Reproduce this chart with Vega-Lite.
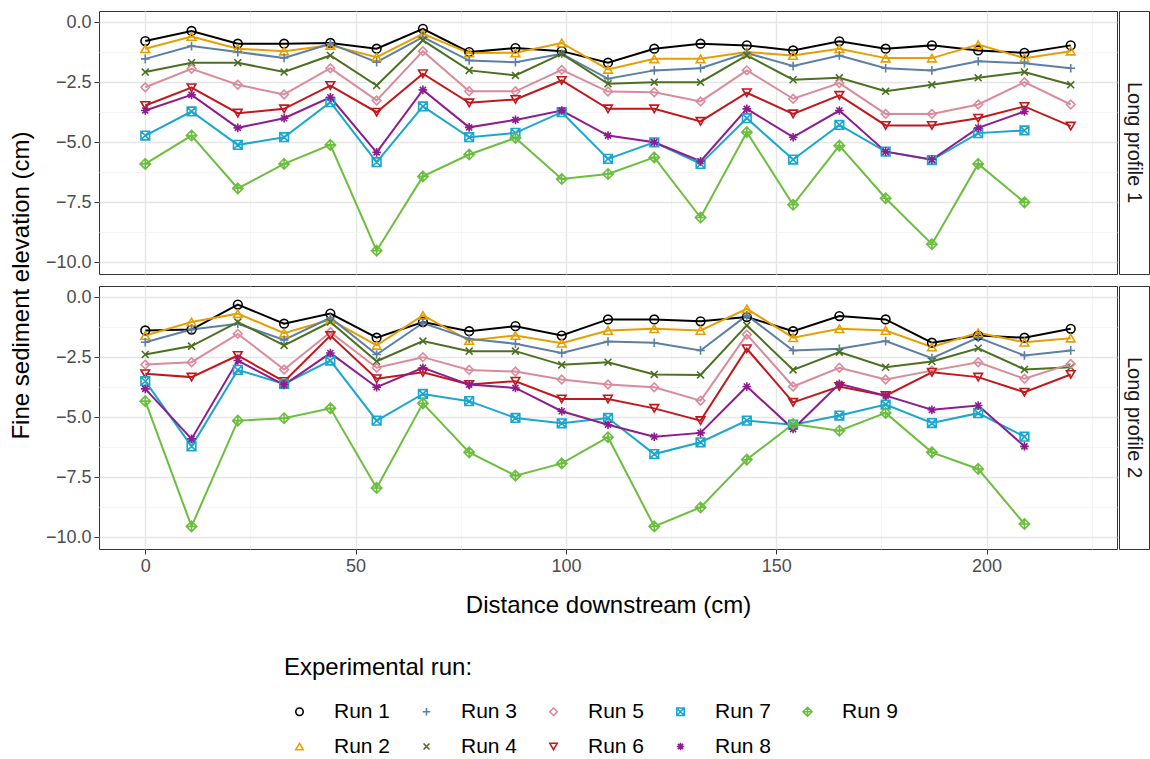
{
"$schema": "https://vega.github.io/schema/vega-lite/v6.json",
"padding": {"left": 8, "top": 10, "right": 0, "bottom": 0},
"background": "white",
"bounds": "flush",
"columns": 2,
"spacing": {"row": 12, "column": 2},
"config": {
  "font": "Liberation Sans",
  "view": {"stroke": "#333333", "strokeWidth": 1},
  "axis": {"labelFont": "Liberation Sans", "labelFontSize": 18, "labelColor": "#4d4d4d", "titleFont": "Liberation Sans", "titleFontSize": 24, "titleFontWeight": "normal", "titleColor": "#000000", "tickColor": "#333333", "tickSize": 5, "domain": false, "labelPadding": 3},
  "legend": {"titleFont": "Liberation Sans", "labelFont": "Liberation Sans", "titleLimit": 500, "labelLimit": 200}
},
"datasets": {
"strips": [{"profile": "Long profile 1"}, {"profile": "Long profile 2"}],
"runs": [
{"profile":"Long profile 1","run":"Run 1","distance":0,"elevation":-0.79},
{"profile":"Long profile 1","run":"Run 1","distance":11,"elevation":-0.37},
{"profile":"Long profile 1","run":"Run 1","distance":22,"elevation":-0.9},
{"profile":"Long profile 1","run":"Run 1","distance":33,"elevation":-0.9},
{"profile":"Long profile 1","run":"Run 1","distance":44,"elevation":-0.87},
{"profile":"Long profile 1","run":"Run 1","distance":55,"elevation":-1.11},
{"profile":"Long profile 1","run":"Run 1","distance":66,"elevation":-0.28},
{"profile":"Long profile 1","run":"Run 1","distance":77,"elevation":-1.25},
{"profile":"Long profile 1","run":"Run 1","distance":88,"elevation":-1.08},
{"profile":"Long profile 1","run":"Run 1","distance":99,"elevation":-1.21},
{"profile":"Long profile 1","run":"Run 1","distance":110,"elevation":-1.69},
{"profile":"Long profile 1","run":"Run 1","distance":121,"elevation":-1.11},
{"profile":"Long profile 1","run":"Run 1","distance":132,"elevation":-0.9},
{"profile":"Long profile 1","run":"Run 1","distance":143,"elevation":-0.97},
{"profile":"Long profile 1","run":"Run 1","distance":154,"elevation":-1.18},
{"profile":"Long profile 1","run":"Run 1","distance":165,"elevation":-0.8},
{"profile":"Long profile 1","run":"Run 1","distance":176,"elevation":-1.11},
{"profile":"Long profile 1","run":"Run 1","distance":187,"elevation":-0.97},
{"profile":"Long profile 1","run":"Run 1","distance":198,"elevation":-1.18},
{"profile":"Long profile 1","run":"Run 1","distance":209,"elevation":-1.28},
{"profile":"Long profile 1","run":"Run 1","distance":220,"elevation":-0.97},
{"profile":"Long profile 1","run":"Run 2","distance":0,"elevation":-1.11},
{"profile":"Long profile 1","run":"Run 2","distance":11,"elevation":-0.6},
{"profile":"Long profile 1","run":"Run 2","distance":22,"elevation":-1.11},
{"profile":"Long profile 1","run":"Run 2","distance":33,"elevation":-1.21},
{"profile":"Long profile 1","run":"Run 2","distance":44,"elevation":-0.97},
{"profile":"Long profile 1","run":"Run 2","distance":55,"elevation":-1.46},
{"profile":"Long profile 1","run":"Run 2","distance":66,"elevation":-0.49},
{"profile":"Long profile 1","run":"Run 2","distance":77,"elevation":-1.29},
{"profile":"Long profile 1","run":"Run 2","distance":88,"elevation":-1.28},
{"profile":"Long profile 1","run":"Run 2","distance":99,"elevation":-0.87},
{"profile":"Long profile 1","run":"Run 2","distance":110,"elevation":-1.97},
{"profile":"Long profile 1","run":"Run 2","distance":121,"elevation":-1.53},
{"profile":"Long profile 1","run":"Run 2","distance":132,"elevation":-1.53},
{"profile":"Long profile 1","run":"Run 2","distance":143,"elevation":-1.25},
{"profile":"Long profile 1","run":"Run 2","distance":154,"elevation":-1.39},
{"profile":"Long profile 1","run":"Run 2","distance":165,"elevation":-1.11},
{"profile":"Long profile 1","run":"Run 2","distance":176,"elevation":-1.5},
{"profile":"Long profile 1","run":"Run 2","distance":187,"elevation":-1.5},
{"profile":"Long profile 1","run":"Run 2","distance":198,"elevation":-0.94},
{"profile":"Long profile 1","run":"Run 2","distance":209,"elevation":-1.5},
{"profile":"Long profile 1","run":"Run 2","distance":220,"elevation":-1.21},
{"profile":"Long profile 1","run":"Run 3","distance":0,"elevation":-1.53},
{"profile":"Long profile 1","run":"Run 3","distance":11,"elevation":-1.0},
{"profile":"Long profile 1","run":"Run 3","distance":22,"elevation":-1.25},
{"profile":"Long profile 1","run":"Run 3","distance":33,"elevation":-1.49},
{"profile":"Long profile 1","run":"Run 3","distance":44,"elevation":-0.9},
{"profile":"Long profile 1","run":"Run 3","distance":55,"elevation":-1.67},
{"profile":"Long profile 1","run":"Run 3","distance":66,"elevation":-0.63},
{"profile":"Long profile 1","run":"Run 3","distance":77,"elevation":-1.6},
{"profile":"Long profile 1","run":"Run 3","distance":88,"elevation":-1.67},
{"profile":"Long profile 1","run":"Run 3","distance":99,"elevation":-1.32},
{"profile":"Long profile 1","run":"Run 3","distance":110,"elevation":-2.36},
{"profile":"Long profile 1","run":"Run 3","distance":121,"elevation":-2.01},
{"profile":"Long profile 1","run":"Run 3","distance":132,"elevation":-1.92},
{"profile":"Long profile 1","run":"Run 3","distance":143,"elevation":-1.29},
{"profile":"Long profile 1","run":"Run 3","distance":154,"elevation":-1.83},
{"profile":"Long profile 1","run":"Run 3","distance":165,"elevation":-1.39},
{"profile":"Long profile 1","run":"Run 3","distance":176,"elevation":-1.92},
{"profile":"Long profile 1","run":"Run 3","distance":187,"elevation":-2.01},
{"profile":"Long profile 1","run":"Run 3","distance":198,"elevation":-1.63},
{"profile":"Long profile 1","run":"Run 3","distance":209,"elevation":-1.71},
{"profile":"Long profile 1","run":"Run 3","distance":220,"elevation":-1.92},
{"profile":"Long profile 1","run":"Run 4","distance":0,"elevation":-2.08},
{"profile":"Long profile 1","run":"Run 4","distance":11,"elevation":-1.69},
{"profile":"Long profile 1","run":"Run 4","distance":22,"elevation":-1.69},
{"profile":"Long profile 1","run":"Run 4","distance":33,"elevation":-2.08},
{"profile":"Long profile 1","run":"Run 4","distance":44,"elevation":-1.39},
{"profile":"Long profile 1","run":"Run 4","distance":55,"elevation":-2.64},
{"profile":"Long profile 1","run":"Run 4","distance":66,"elevation":-0.76},
{"profile":"Long profile 1","run":"Run 4","distance":77,"elevation":-2.01},
{"profile":"Long profile 1","run":"Run 4","distance":88,"elevation":-2.22},
{"profile":"Long profile 1","run":"Run 4","distance":99,"elevation":-1.32},
{"profile":"Long profile 1","run":"Run 4","distance":110,"elevation":-2.57},
{"profile":"Long profile 1","run":"Run 4","distance":121,"elevation":-2.5},
{"profile":"Long profile 1","run":"Run 4","distance":132,"elevation":-2.5},
{"profile":"Long profile 1","run":"Run 4","distance":143,"elevation":-1.39},
{"profile":"Long profile 1","run":"Run 4","distance":154,"elevation":-2.4},
{"profile":"Long profile 1","run":"Run 4","distance":165,"elevation":-2.32},
{"profile":"Long profile 1","run":"Run 4","distance":176,"elevation":-2.88},
{"profile":"Long profile 1","run":"Run 4","distance":187,"elevation":-2.61},
{"profile":"Long profile 1","run":"Run 4","distance":198,"elevation":-2.32},
{"profile":"Long profile 1","run":"Run 4","distance":209,"elevation":-2.08},
{"profile":"Long profile 1","run":"Run 4","distance":220,"elevation":-2.61},
{"profile":"Long profile 1","run":"Run 5","distance":0,"elevation":-2.71},
{"profile":"Long profile 1","run":"Run 5","distance":11,"elevation":-1.94},
{"profile":"Long profile 1","run":"Run 5","distance":22,"elevation":-2.61},
{"profile":"Long profile 1","run":"Run 5","distance":33,"elevation":-3.01},
{"profile":"Long profile 1","run":"Run 5","distance":44,"elevation":-1.92},
{"profile":"Long profile 1","run":"Run 5","distance":55,"elevation":-3.26},
{"profile":"Long profile 1","run":"Run 5","distance":66,"elevation":-1.21},
{"profile":"Long profile 1","run":"Run 5","distance":77,"elevation":-2.88},
{"profile":"Long profile 1","run":"Run 5","distance":88,"elevation":-2.88},
{"profile":"Long profile 1","run":"Run 5","distance":99,"elevation":-1.99},
{"profile":"Long profile 1","run":"Run 5","distance":110,"elevation":-2.89},
{"profile":"Long profile 1","run":"Run 5","distance":121,"elevation":-2.92},
{"profile":"Long profile 1","run":"Run 5","distance":132,"elevation":-3.3},
{"profile":"Long profile 1","run":"Run 5","distance":143,"elevation":-2.01},
{"profile":"Long profile 1","run":"Run 5","distance":154,"elevation":-3.19},
{"profile":"Long profile 1","run":"Run 5","distance":165,"elevation":-2.54},
{"profile":"Long profile 1","run":"Run 5","distance":176,"elevation":-3.82},
{"profile":"Long profile 1","run":"Run 5","distance":187,"elevation":-3.82},
{"profile":"Long profile 1","run":"Run 5","distance":198,"elevation":-3.43},
{"profile":"Long profile 1","run":"Run 5","distance":209,"elevation":-2.5},
{"profile":"Long profile 1","run":"Run 5","distance":220,"elevation":-3.43},
{"profile":"Long profile 1","run":"Run 6","distance":0,"elevation":-3.47},
{"profile":"Long profile 1","run":"Run 6","distance":11,"elevation":-2.73},
{"profile":"Long profile 1","run":"Run 6","distance":22,"elevation":-3.79},
{"profile":"Long profile 1","run":"Run 6","distance":33,"elevation":-3.61},
{"profile":"Long profile 1","run":"Run 6","distance":44,"elevation":-2.64},
{"profile":"Long profile 1","run":"Run 6","distance":55,"elevation":-3.75},
{"profile":"Long profile 1","run":"Run 6","distance":66,"elevation":-2.15},
{"profile":"Long profile 1","run":"Run 6","distance":77,"elevation":-3.36},
{"profile":"Long profile 1","run":"Run 6","distance":88,"elevation":-3.22},
{"profile":"Long profile 1","run":"Run 6","distance":99,"elevation":-2.43},
{"profile":"Long profile 1","run":"Run 6","distance":110,"elevation":-3.61},
{"profile":"Long profile 1","run":"Run 6","distance":121,"elevation":-3.61},
{"profile":"Long profile 1","run":"Run 6","distance":132,"elevation":-4.13},
{"profile":"Long profile 1","run":"Run 6","distance":143,"elevation":-2.94},
{"profile":"Long profile 1","run":"Run 6","distance":154,"elevation":-3.82},
{"profile":"Long profile 1","run":"Run 6","distance":165,"elevation":-3.05},
{"profile":"Long profile 1","run":"Run 6","distance":176,"elevation":-4.3},
{"profile":"Long profile 1","run":"Run 6","distance":187,"elevation":-4.3},
{"profile":"Long profile 1","run":"Run 6","distance":198,"elevation":-4.0},
{"profile":"Long profile 1","run":"Run 6","distance":209,"elevation":-3.51},
{"profile":"Long profile 1","run":"Run 6","distance":220,"elevation":-4.33},
{"profile":"Long profile 1","run":"Run 7","distance":0,"elevation":-4.72},
{"profile":"Long profile 1","run":"Run 7","distance":11,"elevation":-3.72},
{"profile":"Long profile 1","run":"Run 7","distance":22,"elevation":-5.11},
{"profile":"Long profile 1","run":"Run 7","distance":33,"elevation":-4.79},
{"profile":"Long profile 1","run":"Run 7","distance":44,"elevation":-3.33},
{"profile":"Long profile 1","run":"Run 7","distance":55,"elevation":-5.83},
{"profile":"Long profile 1","run":"Run 7","distance":66,"elevation":-3.51},
{"profile":"Long profile 1","run":"Run 7","distance":77,"elevation":-4.79},
{"profile":"Long profile 1","run":"Run 7","distance":88,"elevation":-4.61},
{"profile":"Long profile 1","run":"Run 7","distance":99,"elevation":-3.75},
{"profile":"Long profile 1","run":"Run 7","distance":110,"elevation":-5.69},
{"profile":"Long profile 1","run":"Run 7","distance":121,"elevation":-5.0},
{"profile":"Long profile 1","run":"Run 7","distance":132,"elevation":-5.9},
{"profile":"Long profile 1","run":"Run 7","distance":143,"elevation":-4.0},
{"profile":"Long profile 1","run":"Run 7","distance":154,"elevation":-5.72},
{"profile":"Long profile 1","run":"Run 7","distance":165,"elevation":-4.28},
{"profile":"Long profile 1","run":"Run 7","distance":176,"elevation":-5.39},
{"profile":"Long profile 1","run":"Run 7","distance":187,"elevation":-5.74},
{"profile":"Long profile 1","run":"Run 7","distance":198,"elevation":-4.62},
{"profile":"Long profile 1","run":"Run 7","distance":209,"elevation":-4.51},
{"profile":"Long profile 1","run":"Run 8","distance":0,"elevation":-3.68},
{"profile":"Long profile 1","run":"Run 8","distance":11,"elevation":-3.03},
{"profile":"Long profile 1","run":"Run 8","distance":22,"elevation":-4.4},
{"profile":"Long profile 1","run":"Run 8","distance":33,"elevation":-4.0},
{"profile":"Long profile 1","run":"Run 8","distance":44,"elevation":-3.13},
{"profile":"Long profile 1","run":"Run 8","distance":55,"elevation":-5.42},
{"profile":"Long profile 1","run":"Run 8","distance":66,"elevation":-2.82},
{"profile":"Long profile 1","run":"Run 8","distance":77,"elevation":-4.38},
{"profile":"Long profile 1","run":"Run 8","distance":88,"elevation":-4.07},
{"profile":"Long profile 1","run":"Run 8","distance":99,"elevation":-3.68},
{"profile":"Long profile 1","run":"Run 8","distance":110,"elevation":-4.72},
{"profile":"Long profile 1","run":"Run 8","distance":121,"elevation":-5.0},
{"profile":"Long profile 1","run":"Run 8","distance":132,"elevation":-5.79},
{"profile":"Long profile 1","run":"Run 8","distance":143,"elevation":-3.61},
{"profile":"Long profile 1","run":"Run 8","distance":154,"elevation":-4.79},
{"profile":"Long profile 1","run":"Run 8","distance":165,"elevation":-3.68},
{"profile":"Long profile 1","run":"Run 8","distance":176,"elevation":-5.39},
{"profile":"Long profile 1","run":"Run 8","distance":187,"elevation":-5.72},
{"profile":"Long profile 1","run":"Run 8","distance":198,"elevation":-4.4},
{"profile":"Long profile 1","run":"Run 8","distance":209,"elevation":-3.72},
{"profile":"Long profile 1","run":"Run 9","distance":0,"elevation":-5.9},
{"profile":"Long profile 1","run":"Run 9","distance":11,"elevation":-4.72},
{"profile":"Long profile 1","run":"Run 9","distance":22,"elevation":-6.92},
{"profile":"Long profile 1","run":"Run 9","distance":33,"elevation":-5.9},
{"profile":"Long profile 1","run":"Run 9","distance":44,"elevation":-5.11},
{"profile":"Long profile 1","run":"Run 9","distance":55,"elevation":-9.51},
{"profile":"Long profile 1","run":"Run 9","distance":66,"elevation":-6.42},
{"profile":"Long profile 1","run":"Run 9","distance":77,"elevation":-5.51},
{"profile":"Long profile 1","run":"Run 9","distance":88,"elevation":-4.82},
{"profile":"Long profile 1","run":"Run 9","distance":99,"elevation":-6.53},
{"profile":"Long profile 1","run":"Run 9","distance":110,"elevation":-6.32},
{"profile":"Long profile 1","run":"Run 9","distance":121,"elevation":-5.63},
{"profile":"Long profile 1","run":"Run 9","distance":132,"elevation":-8.13},
{"profile":"Long profile 1","run":"Run 9","distance":143,"elevation":-4.58},
{"profile":"Long profile 1","run":"Run 9","distance":154,"elevation":-7.6},
{"profile":"Long profile 1","run":"Run 9","distance":165,"elevation":-5.14},
{"profile":"Long profile 1","run":"Run 9","distance":176,"elevation":-7.33},
{"profile":"Long profile 1","run":"Run 9","distance":187,"elevation":-9.24},
{"profile":"Long profile 1","run":"Run 9","distance":198,"elevation":-5.9},
{"profile":"Long profile 1","run":"Run 9","distance":209,"elevation":-7.5},
{"profile":"Long profile 2","run":"Run 1","distance":0,"elevation":-1.39},
{"profile":"Long profile 2","run":"Run 1","distance":11,"elevation":-1.35},
{"profile":"Long profile 2","run":"Run 1","distance":22,"elevation":-0.31},
{"profile":"Long profile 2","run":"Run 1","distance":33,"elevation":-1.11},
{"profile":"Long profile 2","run":"Run 1","distance":44,"elevation":-0.69},
{"profile":"Long profile 2","run":"Run 1","distance":55,"elevation":-1.69},
{"profile":"Long profile 2","run":"Run 1","distance":66,"elevation":-1.04},
{"profile":"Long profile 2","run":"Run 1","distance":77,"elevation":-1.42},
{"profile":"Long profile 2","run":"Run 1","distance":88,"elevation":-1.21},
{"profile":"Long profile 2","run":"Run 1","distance":99,"elevation":-1.6},
{"profile":"Long profile 2","run":"Run 1","distance":110,"elevation":-0.93},
{"profile":"Long profile 2","run":"Run 1","distance":121,"elevation":-0.93},
{"profile":"Long profile 2","run":"Run 1","distance":132,"elevation":-1.01},
{"profile":"Long profile 2","run":"Run 1","distance":143,"elevation":-0.83},
{"profile":"Long profile 2","run":"Run 1","distance":154,"elevation":-1.42},
{"profile":"Long profile 2","run":"Run 1","distance":165,"elevation":-0.79},
{"profile":"Long profile 2","run":"Run 1","distance":176,"elevation":-0.93},
{"profile":"Long profile 2","run":"Run 1","distance":187,"elevation":-1.9},
{"profile":"Long profile 2","run":"Run 1","distance":198,"elevation":-1.6},
{"profile":"Long profile 2","run":"Run 1","distance":209,"elevation":-1.69},
{"profile":"Long profile 2","run":"Run 1","distance":220,"elevation":-1.32},
{"profile":"Long profile 2","run":"Run 2","distance":0,"elevation":-1.6},
{"profile":"Long profile 2","run":"Run 2","distance":11,"elevation":-1.04},
{"profile":"Long profile 2","run":"Run 2","distance":22,"elevation":-0.69},
{"profile":"Long profile 2","run":"Run 2","distance":33,"elevation":-1.5},
{"profile":"Long profile 2","run":"Run 2","distance":44,"elevation":-0.94},
{"profile":"Long profile 2","run":"Run 2","distance":55,"elevation":-2.01},
{"profile":"Long profile 2","run":"Run 2","distance":66,"elevation":-0.76},
{"profile":"Long profile 2","run":"Run 2","distance":77,"elevation":-1.81},
{"profile":"Long profile 2","run":"Run 2","distance":88,"elevation":-1.6},
{"profile":"Long profile 2","run":"Run 2","distance":99,"elevation":-1.92},
{"profile":"Long profile 2","run":"Run 2","distance":110,"elevation":-1.39},
{"profile":"Long profile 2","run":"Run 2","distance":121,"elevation":-1.32},
{"profile":"Long profile 2","run":"Run 2","distance":132,"elevation":-1.39},
{"profile":"Long profile 2","run":"Run 2","distance":143,"elevation":-0.49},
{"profile":"Long profile 2","run":"Run 2","distance":154,"elevation":-1.69},
{"profile":"Long profile 2","run":"Run 2","distance":165,"elevation":-1.32},
{"profile":"Long profile 2","run":"Run 2","distance":176,"elevation":-1.39},
{"profile":"Long profile 2","run":"Run 2","distance":187,"elevation":-2.08},
{"profile":"Long profile 2","run":"Run 2","distance":198,"elevation":-1.49},
{"profile":"Long profile 2","run":"Run 2","distance":209,"elevation":-1.88},
{"profile":"Long profile 2","run":"Run 2","distance":220,"elevation":-1.71},
{"profile":"Long profile 2","run":"Run 3","distance":0,"elevation":-1.88},
{"profile":"Long profile 2","run":"Run 3","distance":11,"elevation":-1.35},
{"profile":"Long profile 2","run":"Run 3","distance":22,"elevation":-1.11},
{"profile":"Long profile 2","run":"Run 3","distance":33,"elevation":-1.78},
{"profile":"Long profile 2","run":"Run 3","distance":44,"elevation":-0.86},
{"profile":"Long profile 2","run":"Run 3","distance":55,"elevation":-2.39},
{"profile":"Long profile 2","run":"Run 3","distance":66,"elevation":-1.08},
{"profile":"Long profile 2","run":"Run 3","distance":77,"elevation":-1.74},
{"profile":"Long profile 2","run":"Run 3","distance":88,"elevation":-1.94},
{"profile":"Long profile 2","run":"Run 3","distance":99,"elevation":-2.33},
{"profile":"Long profile 2","run":"Run 3","distance":110,"elevation":-1.85},
{"profile":"Long profile 2","run":"Run 3","distance":121,"elevation":-1.9},
{"profile":"Long profile 2","run":"Run 3","distance":132,"elevation":-2.22},
{"profile":"Long profile 2","run":"Run 3","distance":143,"elevation":-0.76},
{"profile":"Long profile 2","run":"Run 3","distance":154,"elevation":-2.22},
{"profile":"Long profile 2","run":"Run 3","distance":165,"elevation":-2.15},
{"profile":"Long profile 2","run":"Run 3","distance":176,"elevation":-1.83},
{"profile":"Long profile 2","run":"Run 3","distance":187,"elevation":-2.54},
{"profile":"Long profile 2","run":"Run 3","distance":198,"elevation":-1.69},
{"profile":"Long profile 2","run":"Run 3","distance":209,"elevation":-2.43},
{"profile":"Long profile 2","run":"Run 3","distance":220,"elevation":-2.22},
{"profile":"Long profile 2","run":"Run 4","distance":0,"elevation":-2.39},
{"profile":"Long profile 2","run":"Run 4","distance":11,"elevation":-2.04},
{"profile":"Long profile 2","run":"Run 4","distance":22,"elevation":-1.04},
{"profile":"Long profile 2","run":"Run 4","distance":33,"elevation":-2.01},
{"profile":"Long profile 2","run":"Run 4","distance":44,"elevation":-1.04},
{"profile":"Long profile 2","run":"Run 4","distance":55,"elevation":-2.67},
{"profile":"Long profile 2","run":"Run 4","distance":66,"elevation":-1.83},
{"profile":"Long profile 2","run":"Run 4","distance":77,"elevation":-2.25},
{"profile":"Long profile 2","run":"Run 4","distance":88,"elevation":-2.25},
{"profile":"Long profile 2","run":"Run 4","distance":99,"elevation":-2.82},
{"profile":"Long profile 2","run":"Run 4","distance":110,"elevation":-2.71},
{"profile":"Long profile 2","run":"Run 4","distance":121,"elevation":-3.22},
{"profile":"Long profile 2","run":"Run 4","distance":132,"elevation":-3.24},
{"profile":"Long profile 2","run":"Run 4","distance":143,"elevation":-1.18},
{"profile":"Long profile 2","run":"Run 4","distance":154,"elevation":-3.03},
{"profile":"Long profile 2","run":"Run 4","distance":165,"elevation":-2.29},
{"profile":"Long profile 2","run":"Run 4","distance":176,"elevation":-2.92},
{"profile":"Long profile 2","run":"Run 4","distance":187,"elevation":-2.68},
{"profile":"Long profile 2","run":"Run 4","distance":198,"elevation":-2.13},
{"profile":"Long profile 2","run":"Run 4","distance":209,"elevation":-3.01},
{"profile":"Long profile 2","run":"Run 4","distance":220,"elevation":-2.92},
{"profile":"Long profile 2","run":"Run 5","distance":0,"elevation":-2.81},
{"profile":"Long profile 2","run":"Run 5","distance":11,"elevation":-2.71},
{"profile":"Long profile 2","run":"Run 5","distance":22,"elevation":-1.53},
{"profile":"Long profile 2","run":"Run 5","distance":33,"elevation":-3.01},
{"profile":"Long profile 2","run":"Run 5","distance":44,"elevation":-1.46},
{"profile":"Long profile 2","run":"Run 5","distance":55,"elevation":-2.94},
{"profile":"Long profile 2","run":"Run 5","distance":66,"elevation":-2.5},
{"profile":"Long profile 2","run":"Run 5","distance":77,"elevation":-3.03},
{"profile":"Long profile 2","run":"Run 5","distance":88,"elevation":-3.1},
{"profile":"Long profile 2","run":"Run 5","distance":99,"elevation":-3.43},
{"profile":"Long profile 2","run":"Run 5","distance":110,"elevation":-3.64},
{"profile":"Long profile 2","run":"Run 5","distance":121,"elevation":-3.75},
{"profile":"Long profile 2","run":"Run 5","distance":132,"elevation":-4.31},
{"profile":"Long profile 2","run":"Run 5","distance":143,"elevation":-1.56},
{"profile":"Long profile 2","run":"Run 5","distance":154,"elevation":-3.72},
{"profile":"Long profile 2","run":"Run 5","distance":165,"elevation":-2.94},
{"profile":"Long profile 2","run":"Run 5","distance":176,"elevation":-3.43},
{"profile":"Long profile 2","run":"Run 5","distance":187,"elevation":-3.06},
{"profile":"Long profile 2","run":"Run 5","distance":198,"elevation":-2.71},
{"profile":"Long profile 2","run":"Run 5","distance":209,"elevation":-3.4},
{"profile":"Long profile 2","run":"Run 5","distance":220,"elevation":-2.78},
{"profile":"Long profile 2","run":"Run 6","distance":0,"elevation":-3.19},
{"profile":"Long profile 2","run":"Run 6","distance":11,"elevation":-3.33},
{"profile":"Long profile 2","run":"Run 6","distance":22,"elevation":-2.43},
{"profile":"Long profile 2","run":"Run 6","distance":33,"elevation":-3.51},
{"profile":"Long profile 2","run":"Run 6","distance":44,"elevation":-1.6},
{"profile":"Long profile 2","run":"Run 6","distance":55,"elevation":-3.4},
{"profile":"Long profile 2","run":"Run 6","distance":66,"elevation":-3.13},
{"profile":"Long profile 2","run":"Run 6","distance":77,"elevation":-3.64},
{"profile":"Long profile 2","run":"Run 6","distance":88,"elevation":-3.5},
{"profile":"Long profile 2","run":"Run 6","distance":99,"elevation":-4.24},
{"profile":"Long profile 2","run":"Run 6","distance":110,"elevation":-4.24},
{"profile":"Long profile 2","run":"Run 6","distance":121,"elevation":-4.63},
{"profile":"Long profile 2","run":"Run 6","distance":132,"elevation":-5.14},
{"profile":"Long profile 2","run":"Run 6","distance":143,"elevation":-2.15},
{"profile":"Long profile 2","run":"Run 6","distance":154,"elevation":-4.38},
{"profile":"Long profile 2","run":"Run 6","distance":165,"elevation":-3.72},
{"profile":"Long profile 2","run":"Run 6","distance":176,"elevation":-4.1},
{"profile":"Long profile 2","run":"Run 6","distance":187,"elevation":-3.13},
{"profile":"Long profile 2","run":"Run 6","distance":198,"elevation":-3.33},
{"profile":"Long profile 2","run":"Run 6","distance":209,"elevation":-3.96},
{"profile":"Long profile 2","run":"Run 6","distance":220,"elevation":-3.22},
{"profile":"Long profile 2","run":"Run 7","distance":0,"elevation":-3.5},
{"profile":"Long profile 2","run":"Run 7","distance":11,"elevation":-6.21},
{"profile":"Long profile 2","run":"Run 7","distance":22,"elevation":-3.03},
{"profile":"Long profile 2","run":"Run 7","distance":33,"elevation":-3.61},
{"profile":"Long profile 2","run":"Run 7","distance":44,"elevation":-2.64},
{"profile":"Long profile 2","run":"Run 7","distance":55,"elevation":-5.14},
{"profile":"Long profile 2","run":"Run 7","distance":66,"elevation":-4.03},
{"profile":"Long profile 2","run":"Run 7","distance":77,"elevation":-4.33},
{"profile":"Long profile 2","run":"Run 7","distance":88,"elevation":-5.03},
{"profile":"Long profile 2","run":"Run 7","distance":99,"elevation":-5.25},
{"profile":"Long profile 2","run":"Run 7","distance":110,"elevation":-5.03},
{"profile":"Long profile 2","run":"Run 7","distance":121,"elevation":-6.53},
{"profile":"Long profile 2","run":"Run 7","distance":132,"elevation":-6.04},
{"profile":"Long profile 2","run":"Run 7","distance":143,"elevation":-5.14},
{"profile":"Long profile 2","run":"Run 7","distance":154,"elevation":-5.31},
{"profile":"Long profile 2","run":"Run 7","distance":165,"elevation":-4.93},
{"profile":"Long profile 2","run":"Run 7","distance":176,"elevation":-4.47},
{"profile":"Long profile 2","run":"Run 7","distance":187,"elevation":-5.24},
{"profile":"Long profile 2","run":"Run 7","distance":198,"elevation":-4.83},
{"profile":"Long profile 2","run":"Run 7","distance":209,"elevation":-5.81},
{"profile":"Long profile 2","run":"Run 8","distance":0,"elevation":-3.82},
{"profile":"Long profile 2","run":"Run 8","distance":11,"elevation":-5.9},
{"profile":"Long profile 2","run":"Run 8","distance":22,"elevation":-2.64},
{"profile":"Long profile 2","run":"Run 8","distance":33,"elevation":-3.65},
{"profile":"Long profile 2","run":"Run 8","distance":44,"elevation":-2.33},
{"profile":"Long profile 2","run":"Run 8","distance":55,"elevation":-3.75},
{"profile":"Long profile 2","run":"Run 8","distance":66,"elevation":-2.94},
{"profile":"Long profile 2","run":"Run 8","distance":77,"elevation":-3.64},
{"profile":"Long profile 2","run":"Run 8","distance":88,"elevation":-3.78},
{"profile":"Long profile 2","run":"Run 8","distance":99,"elevation":-4.75},
{"profile":"Long profile 2","run":"Run 8","distance":110,"elevation":-5.31},
{"profile":"Long profile 2","run":"Run 8","distance":121,"elevation":-5.81},
{"profile":"Long profile 2","run":"Run 8","distance":132,"elevation":-5.65},
{"profile":"Long profile 2","run":"Run 8","distance":143,"elevation":-3.72},
{"profile":"Long profile 2","run":"Run 8","distance":154,"elevation":-5.49},
{"profile":"Long profile 2","run":"Run 8","distance":165,"elevation":-3.61},
{"profile":"Long profile 2","run":"Run 8","distance":176,"elevation":-4.1},
{"profile":"Long profile 2","run":"Run 8","distance":187,"elevation":-4.69},
{"profile":"Long profile 2","run":"Run 8","distance":198,"elevation":-4.51},
{"profile":"Long profile 2","run":"Run 8","distance":209,"elevation":-6.21},
{"profile":"Long profile 2","run":"Run 9","distance":0,"elevation":-4.33},
{"profile":"Long profile 2","run":"Run 9","distance":11,"elevation":-9.54},
{"profile":"Long profile 2","run":"Run 9","distance":22,"elevation":-5.14},
{"profile":"Long profile 2","run":"Run 9","distance":33,"elevation":-5.04},
{"profile":"Long profile 2","run":"Run 9","distance":44,"elevation":-4.63},
{"profile":"Long profile 2","run":"Run 9","distance":55,"elevation":-7.94},
{"profile":"Long profile 2","run":"Run 9","distance":66,"elevation":-4.42},
{"profile":"Long profile 2","run":"Run 9","distance":77,"elevation":-6.46},
{"profile":"Long profile 2","run":"Run 9","distance":88,"elevation":-7.43},
{"profile":"Long profile 2","run":"Run 9","distance":99,"elevation":-6.92},
{"profile":"Long profile 2","run":"Run 9","distance":110,"elevation":-5.83},
{"profile":"Long profile 2","run":"Run 9","distance":121,"elevation":-9.54},
{"profile":"Long profile 2","run":"Run 9","distance":132,"elevation":-8.75},
{"profile":"Long profile 2","run":"Run 9","distance":143,"elevation":-6.76},
{"profile":"Long profile 2","run":"Run 9","distance":154,"elevation":-5.28},
{"profile":"Long profile 2","run":"Run 9","distance":165,"elevation":-5.56},
{"profile":"Long profile 2","run":"Run 9","distance":176,"elevation":-4.82},
{"profile":"Long profile 2","run":"Run 9","distance":187,"elevation":-6.46},
{"profile":"Long profile 2","run":"Run 9","distance":198,"elevation":-7.15},
{"profile":"Long profile 2","run":"Run 9","distance":209,"elevation":-9.44}
]
},
"concat": [
  {
    "width": 1018, "height": 263,
    "data": {"name": "runs"},
    "transform": [{"filter": "datum.profile === 'Long profile 1'"}],
    "encoding": {
      "x": {"field": "distance", "type": "quantitative", "scale": {"domain": [-11, 231], "nice": false, "zero": false},
            "axis": {"values": [0,25,50,75,100,125,150,175,200,225], "labels": false, "ticks": false, "title": null, "domain": false,
                     "gridColor": {"condition": {"test": "datum.value % 50 !== 0", "value": "#f2f2f2"}, "value": "#e6e6e6"},
                     "gridWidth": {"condition": {"test": "datum.value % 50 !== 0", "value": 0.8}, "value": 1.4}}},
      "y": {"field": "elevation", "type": "quantitative", "scale": {"domain": [-10.48, 0.46], "nice": false, "zero": false},
            "axis": {"values": [-10,-8.75,-7.5,-6.25,-5,-3.75,-2.5,-1.25,0], "format": ".1f",
                     "labelExpr": "datum.value % 2.5 === 0 ? datum.label : ''",
                     "tickOpacity": {"condition": {"test": "datum.value % 2.5 !== 0", "value": 0}, "value": 1},
                     "gridColor": {"condition": {"test": "datum.value % 2.5 !== 0", "value": "#f2f2f2"}, "value": "#e6e6e6"},
                     "gridWidth": {"condition": {"test": "datum.value % 2.5 !== 0", "value": 0.8}, "value": 1.4},
                     "title": "Fine sediment elevation (cm)", "titleAnchor": "middle", "titleY": 274, "titlePadding": 12}},
      "color": {"field": "run", "type": "nominal",
                "scale": {"domain": ["Run 1","Run 3","Run 5","Run 7","Run 9","Run 2","Run 4","Run 6","Run 8"],
                          "range": ["#000000","#5B7FA5","#DB8A9C","#1AA7CF","#6BBE3E","#E69F00","#4B7020","#C2181C","#8E1C8E"]},
                "legend": {"title": "Experimental run:", "orient": "none", "legendX": 185, "legendY": 645, "direction": "horizontal", "columns": 5,
                           "titleFontSize": 24, "titleFontWeight": "normal", "titleColor": "#000000", "labelFontSize": 21, "labelColor": "#000000",
                           "symbolSize": 55, "symbolStrokeWidth": 1.6, "symbolOffset": 5, "rowPadding": 13, "columnPadding": 20, "labelOffset": 24, "titlePadding": 21}}
    },
    "layer": [
      {"mark": {"type": "line", "strokeWidth": 2}},
      {"mark": {"type": "point", "filled": false, "size": 75, "strokeWidth": 1.6, "opacity": 1},
       "encoding": {
         "shape": {"field": "run", "type": "nominal",
                   "scale": {"domain": ["Run 1","Run 3","Run 5","Run 7","Run 9","Run 2","Run 4","Run 6","Run 8"],
                             "range": ["circle","M-1,0H1M0,-1V1","diamond","M-1,-1H1V1H-1ZM-1,-1L1,1M-1,1L1,-1","M0,-1.2L1.2,0L0,1.2L-1.2,0ZM0,-1.2V1.2M-1.2,0H1.2","triangle-up","M-0.8,-0.8L0.8,0.8M-0.8,0.8L0.8,-0.8","triangle-down","M-1,0H1M0,-1V1M-0.7,-0.7L0.7,0.7M-0.7,0.7L0.7,-0.7"]},
                   "legend": {"title": "Experimental run:", "orient": "none", "legendX": 185, "legendY": 645, "direction": "horizontal", "columns": 5}}
       }}
    ]
  },
  {
    "width": 30, "height": 263,
    "view": {"stroke": "#333333", "strokeWidth": 1, "fill": "white"},
    "data": {"name": "strips"},
    "transform": [{"filter": "datum.profile === 'Long profile 1'"}],
    "mark": {"type": "text", "angle": 90, "fontSize": 20, "color": "#1a1a1a", "align": "center", "baseline": "middle"},
    "encoding": {"text": {"field": "profile"}}
  },
  {
    "width": 1018, "height": 263,
    "data": {"name": "runs"},
    "transform": [{"filter": "datum.profile === 'Long profile 2'"}],
    "encoding": {
      "x": {"field": "distance", "type": "quantitative", "scale": {"domain": [-11, 231], "nice": false, "zero": false},
            "axis": {"values": [0,25,50,75,100,125,150,175,200,225], "domain": false,
                     "labelExpr": "datum.value % 50 === 0 ? datum.label : ''",
                     "tickOpacity": {"condition": {"test": "datum.value % 50 !== 0", "value": 0}, "value": 1},
                     "gridColor": {"condition": {"test": "datum.value % 50 !== 0", "value": "#f2f2f2"}, "value": "#e6e6e6"},
                     "gridWidth": {"condition": {"test": "datum.value % 50 !== 0", "value": 0.8}, "value": 1.4},
                     "title": "Distance downstream (cm)", "titlePadding": 18}},
      "y": {"field": "elevation", "type": "quantitative", "scale": {"domain": [-10.48, 0.46], "nice": false, "zero": false},
            "axis": {"values": [-10,-8.75,-7.5,-6.25,-5,-3.75,-2.5,-1.25,0], "format": ".1f",
                     "labelExpr": "datum.value % 2.5 === 0 ? datum.label : ''",
                     "tickOpacity": {"condition": {"test": "datum.value % 2.5 !== 0", "value": 0}, "value": 1},
                     "gridColor": {"condition": {"test": "datum.value % 2.5 !== 0", "value": "#f2f2f2"}, "value": "#e6e6e6"},
                     "gridWidth": {"condition": {"test": "datum.value % 2.5 !== 0", "value": 0.8}, "value": 1.4},
                     "title": null}},
      "color": {"field": "run", "type": "nominal",
                "scale": {"domain": ["Run 1","Run 3","Run 5","Run 7","Run 9","Run 2","Run 4","Run 6","Run 8"],
                          "range": ["#000000","#5B7FA5","#DB8A9C","#1AA7CF","#6BBE3E","#E69F00","#4B7020","#C2181C","#8E1C8E"]},
                "legend": {"title": "Experimental run:", "orient": "none", "legendX": 185, "legendY": 645, "direction": "horizontal", "columns": 5,
                           "titleFontSize": 24, "titleFontWeight": "normal", "titleColor": "#000000", "labelFontSize": 21, "labelColor": "#000000",
                           "symbolSize": 55, "symbolStrokeWidth": 1.6, "symbolOffset": 5, "rowPadding": 13, "columnPadding": 20, "labelOffset": 24, "titlePadding": 21}}
    },
    "layer": [
      {"mark": {"type": "line", "strokeWidth": 2}},
      {"mark": {"type": "point", "filled": false, "size": 75, "strokeWidth": 1.6, "opacity": 1},
       "encoding": {
         "shape": {"field": "run", "type": "nominal",
                   "scale": {"domain": ["Run 1","Run 3","Run 5","Run 7","Run 9","Run 2","Run 4","Run 6","Run 8"],
                             "range": ["circle","M-1,0H1M0,-1V1","diamond","M-1,-1H1V1H-1ZM-1,-1L1,1M-1,1L1,-1","M0,-1.2L1.2,0L0,1.2L-1.2,0ZM0,-1.2V1.2M-1.2,0H1.2","triangle-up","M-0.8,-0.8L0.8,0.8M-0.8,0.8L0.8,-0.8","triangle-down","M-1,0H1M0,-1V1M-0.7,-0.7L0.7,0.7M-0.7,0.7L0.7,-0.7"]},
                   "legend": {"title": "Experimental run:", "orient": "none", "legendX": 185, "legendY": 645, "direction": "horizontal", "columns": 5}}
       }}
    ]
  },
  {
    "width": 30, "height": 263,
    "view": {"stroke": "#333333", "strokeWidth": 1, "fill": "white"},
    "data": {"name": "strips"},
    "transform": [{"filter": "datum.profile === 'Long profile 2'"}],
    "mark": {"type": "text", "angle": 90, "fontSize": 20, "color": "#1a1a1a", "align": "center", "baseline": "middle"},
    "encoding": {"text": {"field": "profile"}}
  }
]
}
